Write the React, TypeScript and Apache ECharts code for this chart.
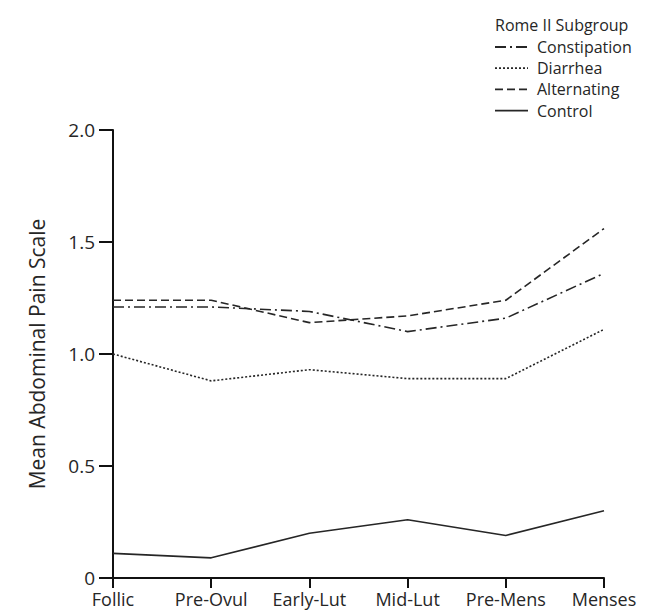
import React, { useEffect, useRef } from "react";
import * as echarts from "echarts";

const categories = ["Follic", "Pre-Ovul", "Early-Lut", "Mid-Lut", "Pre-Mens", "Menses"];
const constipation = [1.21, 1.21, 1.19, 1.1, 1.16, 1.36];
const diarrhea = [1.0, 0.88, 0.93, 0.89, 0.89, 1.11];
const alternating = [1.24, 1.24, 1.14, 1.17, 1.24, 1.56];
const control = [0.11, 0.09, 0.2, 0.26, 0.19, 0.3];
const yTicks = [0, 0.5, 1.0, 1.5, 2.0];
const legendTitle = "Rome II Subgroup";

const FONT = "'Open Sans', 'DejaVu Sans', sans-serif";
const INK = "#262626";

const seriesDefs = [
  { name: "Constipation", data: constipation, dash: [11, 4, 2, 4] },
  { name: "Diarrhea", data: diarrhea, dash: [2, 2] },
  { name: "Alternating", data: alternating, dash: [8, 4] },
  { name: "Control", data: control, dash: null as number[] | null },
];

export default function App() {
  const ref = useRef<HTMLDivElement>(null);
  useEffect(() => {
    if (!ref.current) return;
    const chart = echarts.init(ref.current, undefined, { renderer: "svg" });

    const legendEls: any[] = [
      {
        type: "text",
        x: 495,
        y: 25,
        style: {
          text: legendTitle,
          font: `16px ${FONT}`,
          fill: INK,
          verticalAlign: "middle",
          align: "left",
        },
      },
    ];
    seriesDefs.forEach((s, i) => {
      const y = 47 + i * 21.2;
      legendEls.push({
        type: "line",
        shape: { x1: 495, y1: y, x2: 528, y2: y },
        style: {
          stroke: INK,
          lineWidth: 1.8,
          lineDash: s.dash || undefined,
        },
      });
      legendEls.push({
        type: "text",
        x: 537,
        y,
        style: {
          text: s.name,
          font: `16px ${FONT}`,
          fill: INK,
          verticalAlign: "middle",
          align: "left",
        },
      });
    });

    chart.setOption({
      animation: false,
      backgroundColor: "#ffffff",
      graphic: legendEls,
      grid: { left: 113, right: 41, top: 130, bottom: 37, containLabel: false },
      xAxis: {
        type: "category",
        data: categories,
        boundaryGap: false,
        axisLine: { lineStyle: { color: "#111", width: 2 } },
        axisTick: { show: true, length: 10, lineStyle: { color: "#111", width: 2 } },
        axisLabel: { margin: 12, fontFamily: FONT, fontSize: 18, color: INK, interval: 0 },
      },
      yAxis: {
        type: "value",
        min: 0,
        max: 2,
        interval: 0.5,
        name: "Mean Abdominal Pain Scale",
        nameLocation: "middle",
        nameGap: 66,
        nameTextStyle: { fontFamily: FONT, fontSize: 21, color: INK },
        splitLine: { show: false },
        axisLine: { show: true, lineStyle: { color: "#111", width: 2 } },
        axisTick: { show: true, length: 14, lineStyle: { color: "#111", width: 2 } },
        axisLabel: {
          margin: 18,
          fontFamily: FONT,
          fontSize: 19,
          color: INK,
          formatter: (v: number) => (yTicks.includes(v) ? (v === 0 ? "0" : v.toFixed(1)) : ""),
        },
      },
      series: seriesDefs.map((s) => ({
        name: s.name,
        type: "line",
        data: s.data,
        symbol: "none",
        showSymbol: false,
        lineStyle: { color: INK, width: 1.6, type: s.dash || "solid" },
        itemStyle: { color: INK },
      })),
    });
    return () => chart.dispose();
  }, []);
  return (
    <div
      ref={ref}
      style={{ position: "fixed", left: 0, top: 0, width: 645, height: 615 }}
    />
  );
}
